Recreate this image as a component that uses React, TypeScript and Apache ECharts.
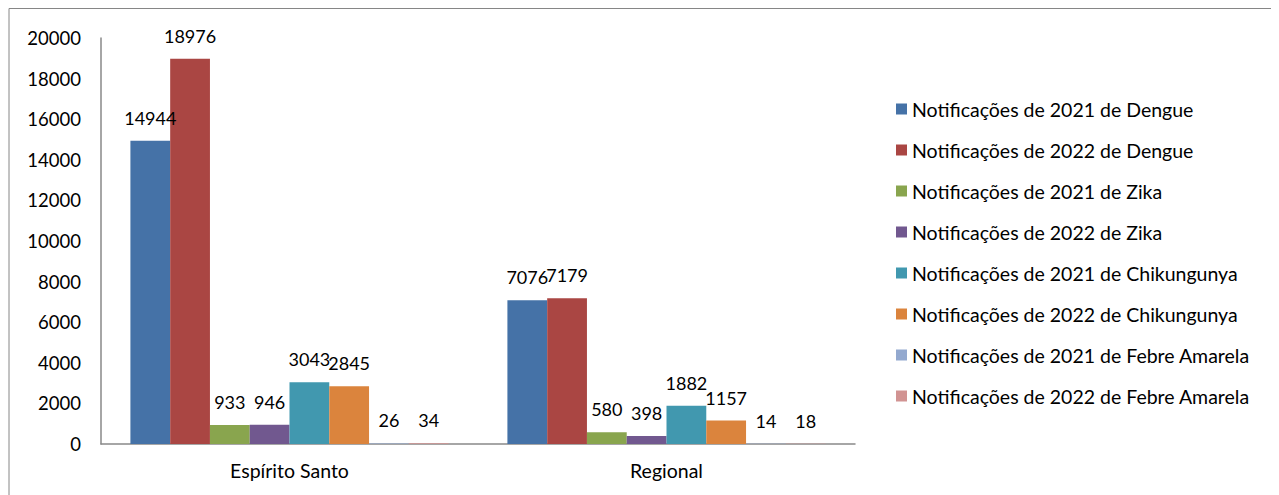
import React, { useEffect, useRef } from "react";
import * as echarts from "echarts";

const categories = ["Espírito Santo", "Regional"];
const seriesNames = [
  "Notificações de 2021 de Dengue",
  "Notificações de 2022 de Dengue",
  "Notificações de 2021 de Zika",
  "Notificações de 2022 de Zika",
  "Notificações de 2021 de Chikungunya",
  "Notificações de 2022 de Chikungunya",
  "Notificações de 2021 de Febre Amarela",
  "Notificações de 2022 de Febre Amarela",
];
const dengue2021 = [14944, 7076];
const dengue2022 = [18976, 7179];
const zika2021 = [933, 580];
const zika2022 = [946, 398];
const chik2021 = [3043, 1882];
const chik2022 = [2845, 1157];
const febre2021 = [26, 14];
const febre2022 = [34, 18];
const seriesValues = [dengue2021, dengue2022, zika2021, zika2022, chik2021, chik2022, febre2021, febre2022];
const colors = ["#4572A7", "#AA4643", "#89A54E", "#71588F", "#4198AF", "#DB843D", "#93A9CF", "#D19392"];
const yTicks = { min: 0, max: 20000, interval: 2000 };

const FONT = "Lato, 'Noto Sans', sans-serif";

export default function App() {
  const ref = useRef<HTMLDivElement>(null);
  useEffect(() => {
    if (!ref.current) return;
    const chart = echarts.init(ref.current, null, { renderer: "svg" });
    chart.setOption({
      animation: false,
      textStyle: { fontFamily: FONT },
      graphic: [
        {
          type: "rect",
          shape: { x: 1, y: 0.5, width: 1269, height: 495 },
          style: { fill: "none", stroke: "#868686", lineWidth: 1 },
          silent: true,
        },
      ],
      grid: { left: 93, right: 424, top: 30, bottom: 51 },
      legend: {
        orient: "vertical",
        left: 883,
        top: 86,
        itemWidth: 11,
        itemHeight: 11,
        itemGap: 21,
        icon: "rect",
        data: seriesNames,
        textStyle: { fontSize: 19.5, color: "#000", lineHeight: 20, fontFamily: FONT },
      },
      xAxis: {
        type: "category",
        data: categories,
        axisLine: { lineStyle: { color: "#898989", width: 1.5 } },
        axisTick: { show: false },
        axisLabel: { fontSize: 19.5, color: "#000", margin: 16, fontFamily: FONT },
      },
      yAxis: {
        type: "value",
        min: yTicks.min,
        max: yTicks.max,
        interval: yTicks.interval,
        axisLine: { show: true, lineStyle: { color: "#898989", width: 1.5 } },
        axisTick: { show: false },
        splitLine: { show: false },
        axisLabel: {
          fontSize: 18.5,
          color: "#000",
          margin: 20,
          fontFamily: FONT,
          formatter: (v: number) => String(v),
        },
      },
      series: seriesNames.map((name, i) => ({
        name,
        type: "bar",
        data: seriesValues[i],
        barGap: "0%",
        barCategoryGap: "15.6%",
        itemStyle: { color: colors[i] },
        label: {
          show: true,
          position: "top",
          distance: 14,
          fontSize: 18,
          color: "#000",
          fontFamily: FONT,
        },
      })),
    });
    return () => chart.dispose();
  }, []);
  return <div ref={ref} style={{ width: 1271, height: 487 }} />;
}
